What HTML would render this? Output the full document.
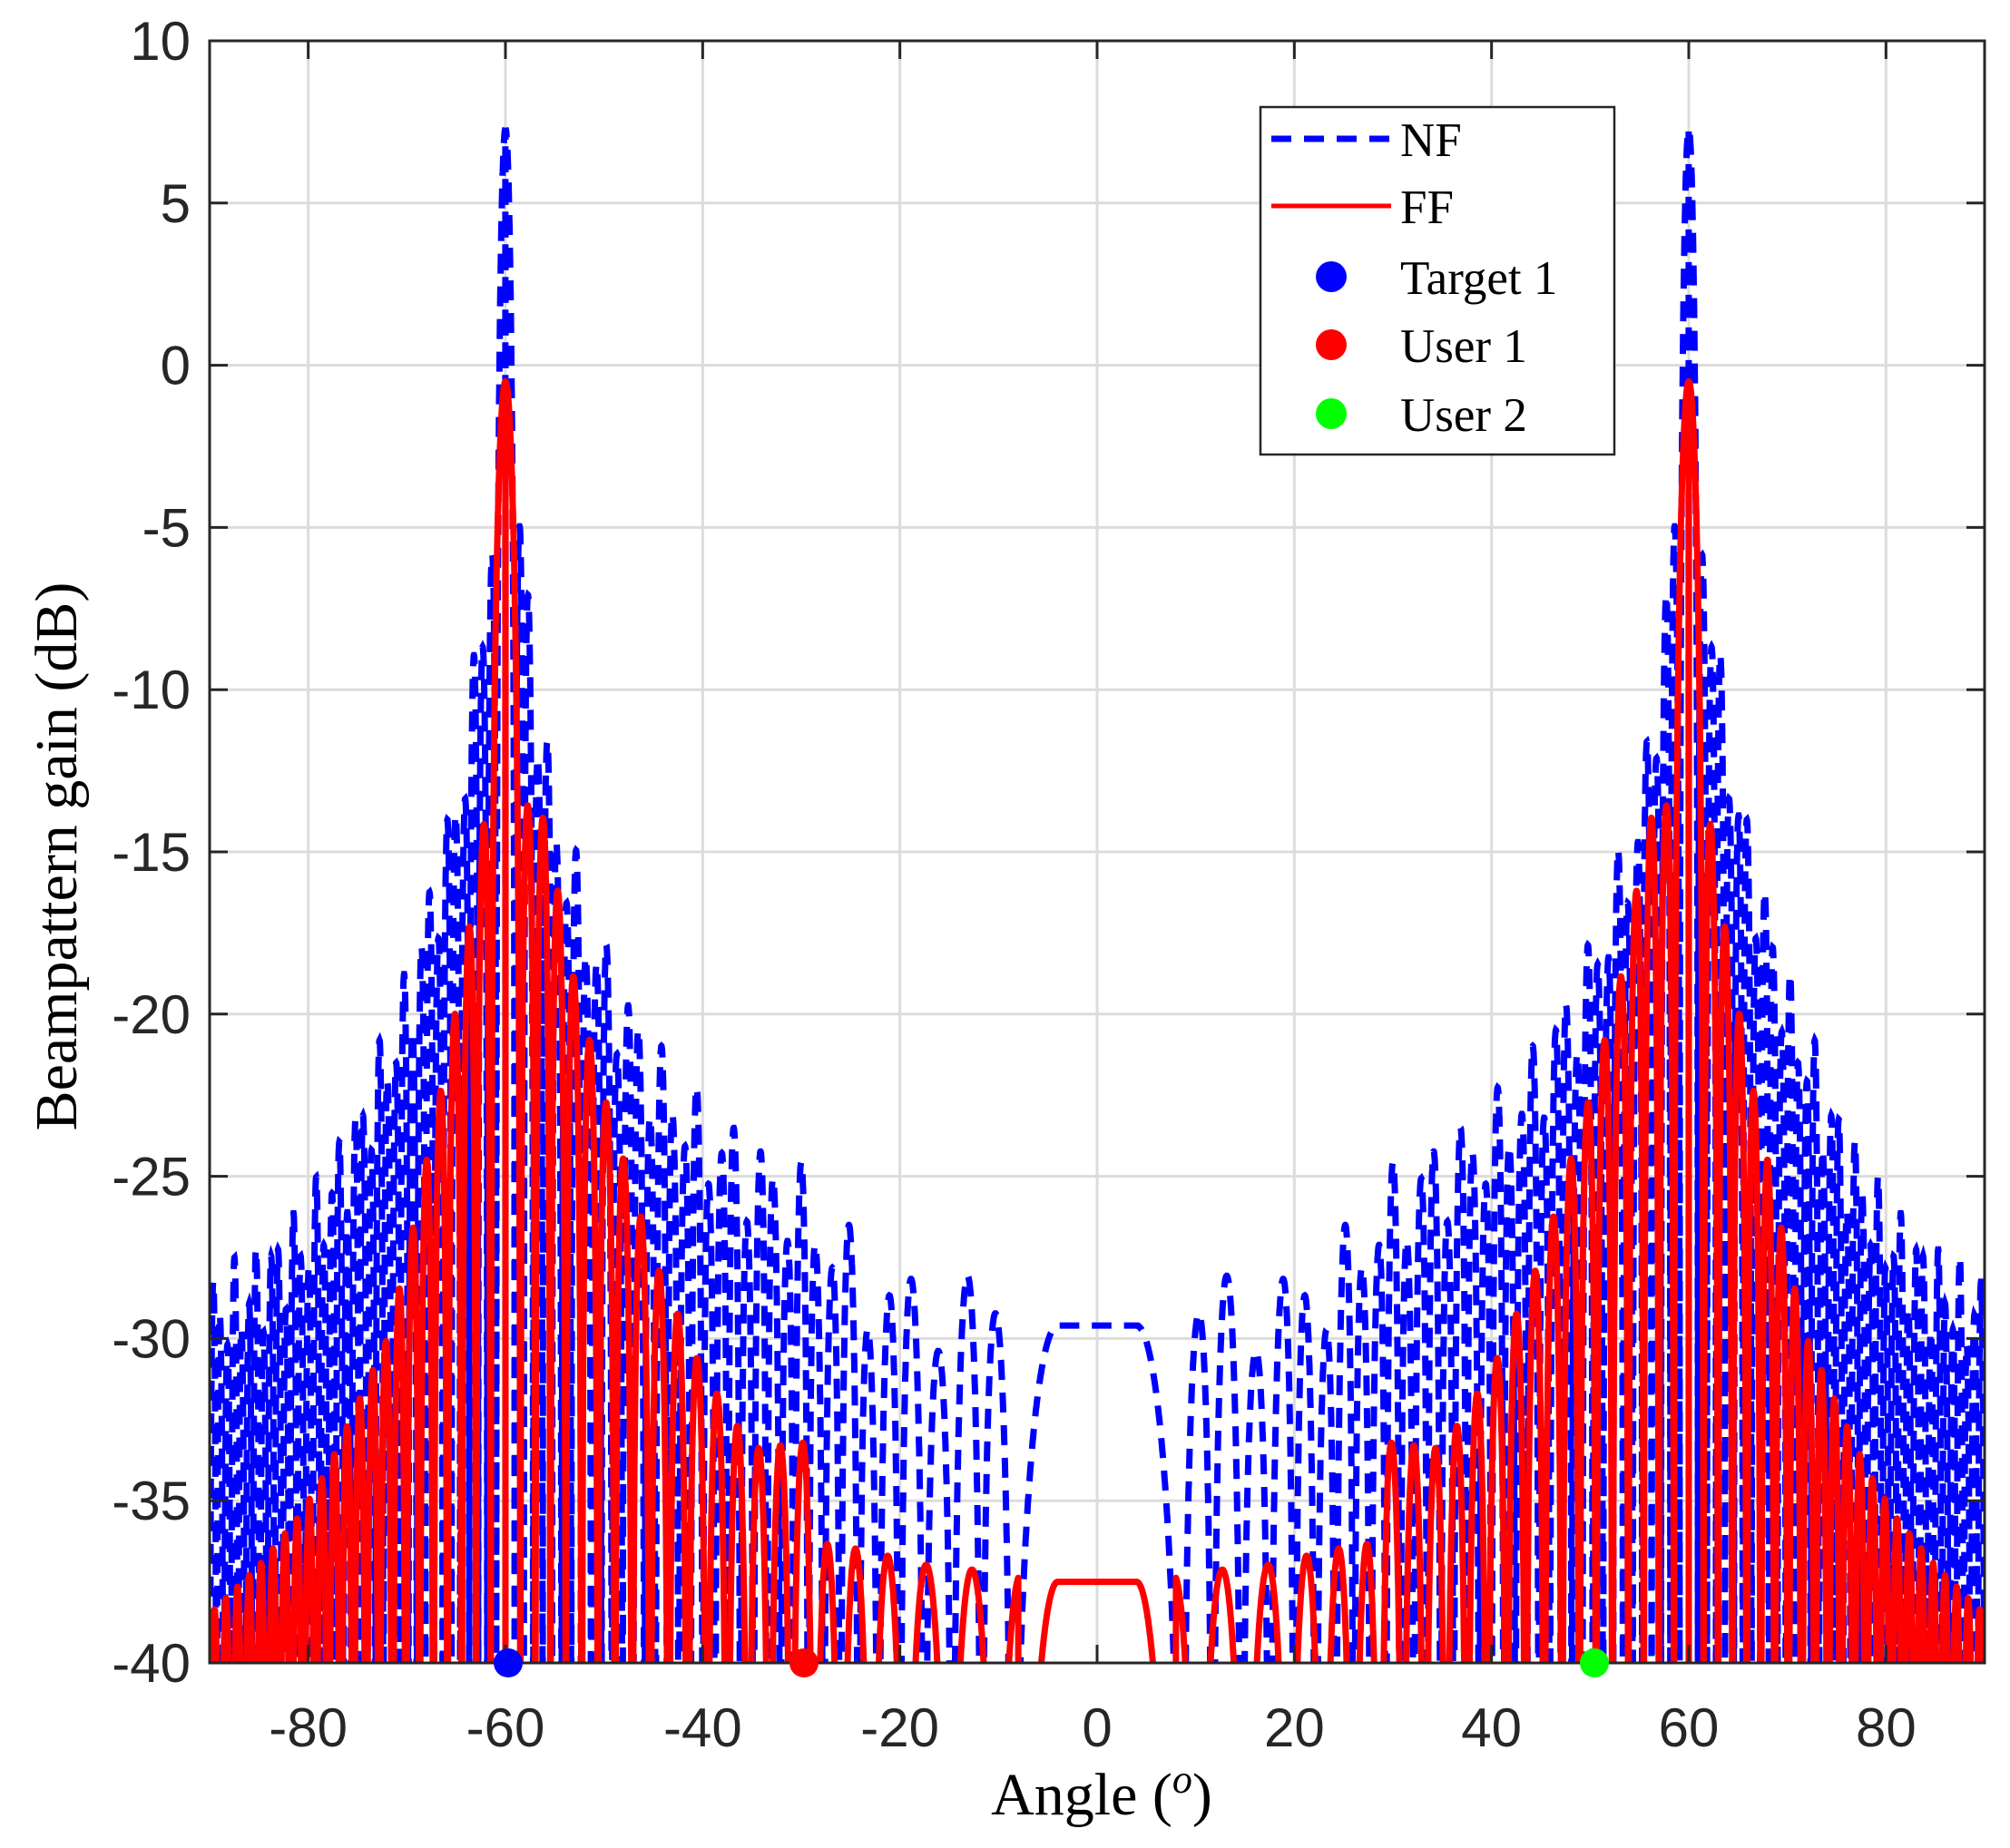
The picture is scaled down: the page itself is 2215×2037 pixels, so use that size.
<!DOCTYPE html>
<html><head><meta charset="utf-8"><style>
html,body{margin:0;padding:0;background:#fff;}
svg{display:block;}
.tk{font-family:"Liberation Sans",sans-serif;font-size:60px;fill:#262626;}
.lg{font-family:"Liberation Serif",serif;fill:#000;}
</style></head><body>
<svg id="s" width="2215" height="2037" viewBox="0 0 2215 2037" xmlns="http://www.w3.org/2000/svg">
<defs><clipPath id="c"><rect x="231" y="45" width="1956" height="1788"/></clipPath></defs>
<rect x="231" y="45" width="1956" height="1788" fill="#fff"/>
<g id="grid" stroke="#dcdcdc" stroke-width="3"></g>
<g clip-path="url(#c)">
<path id="pb" fill="none" stroke="#0000ff" stroke-width="7" stroke-dasharray="22 14"/>
<path id="pr" fill="none" stroke="#ff0000" stroke-width="7" stroke-linejoin="round"/>
</g>
<g id="ax" stroke="#262626" stroke-width="3" fill="none"></g>
<rect x="231" y="45" width="1956" height="1788" fill="none" stroke="#262626" stroke-width="3"/>
<g id="lab"></g>
<circle cx="560" cy="1833" r="16" fill="#0000ff"/>
<circle cx="886" cy="1833" r="16" fill="#ff0000"/>
<circle cx="1757" cy="1833" r="16" fill="#00ff00"/>
<text class="lg" x="1214" y="2000" text-anchor="middle" style="font-size:66px">Angle (<tspan font-style="italic" style="font-size:44px" dy="-24">o</tspan><tspan dy="24">)</tspan></text>
<text class="lg" style="font-size:66px" transform="translate(84,944) rotate(-90)" text-anchor="middle">Beampattern gain (dB)</text>
<rect x="1389" y="118" width="390" height="383" fill="#fff" stroke="#262626" stroke-width="2.5"/>
<line x1="1401" y1="153" x2="1533" y2="153" stroke="#0000ff" stroke-width="7" stroke-dasharray="22 14"/>
<line x1="1401" y1="227" x2="1533" y2="227" stroke="#ff0000" stroke-width="5"/>
<circle cx="1467" cy="305" r="17" fill="#0000ff"/>
<circle cx="1467" cy="380" r="17" fill="#ff0000"/>
<circle cx="1467" cy="456" r="17" fill="#00ff00"/>
<g style="font-size:53px">
<text class="lg" x="1543" y="172">NF</text>
<text class="lg" x="1543" y="246">FF</text>
<text class="lg" x="1543" y="324">Target 1</text>
<text class="lg" x="1543" y="399">User 1</text>
<text class="lg" x="1543" y="475">User 2</text>
</g>
</svg>
<script>
(function(){
var NS="http://www.w3.org/2000/svg";
function X(t){return 231+(t+90)/180*1956;}
function Y(v){return 45+(10-v)/50*1788;}
var grid=document.getElementById('grid'),ax=document.getElementById('ax'),lab=document.getElementById('lab');
function el(p,n,a,txt){var e=document.createElementNS(NS,n);for(var k in a)e.setAttribute(k,a[k]);if(txt)e.textContent=txt;p.appendChild(e);return e;}
for(var t=-80;t<=80;t+=20){var x=X(t);el(grid,'line',{x1:x,y1:45,x2:x,y2:1833});
el(ax,'line',{x1:x,y1:1833,x2:x,y2:1813});el(ax,'line',{x1:x,y1:45,x2:x,y2:65});
el(lab,'text',{'class':'tk',x:x,y:1925,'text-anchor':'middle'},String(t));}
for(var v=-40;v<=10;v+=5){var y=Y(v);if(v>-40&&v<10)el(grid,'line',{x1:231,y1:y,x2:2187,y2:y});
el(ax,'line',{x1:231,y1:y,x2:251,y2:y});el(ax,'line',{x1:2187,y1:y,x2:2167,y2:y});
el(lab,'text',{'class':'tk',x:210,y:y+21,'text-anchor':'end'},String(v));}
function interp(T,a){for(var i=1;i<T.length;i++){if(a<=T[i][0]){var f=(a-T[i-1][0])/(T[i][0]-T[i-1][0]);return T[i-1][1]+f*(T[i][1]-T[i-1][1]);}}return T[T.length-1][1];}
var P=[[0,5],[10,5],[17,4.5],[21,3.5],[25,3],[30,2.3],[40,2],[55,1.55],[60,1.5],[65,1.45],[75,1.3],[90,1.15]];
var envR=[[0,-37.5],[10,-37.2],[17,-37],[24,-36.5],[28,-36.3],[29.5,-33.2],[35,-33.4],[40,-31],[45,-27.5],[50,-22.5],[53,-19],[56,-14],[58,-13.5],[60,-13.5],[62,-13.7],[64,-18],[66,-21.5],[68,-24.5],[70,-27.5],[72,-30],[75,-32],[78,-34],[81,-35.5],[85,-37],[90,-38.5]];
var envB=[[0,-29.6],[12,-29.3],[17,-28.8],[20,-29.3],[25,-28],[30,-26],[35,-25],[40,-24],[45,-22],[50,-19],[55,-14.5],[57,-10],[58.5,-5.5],[60,-5],[61.5,-5.5],[63,-10],[65,-14],[70,-20],[75,-24],[80,-27],[85,-28.5],[90,-29.5]];
var st=0.01,n=9001,g=[0],gb=[0];
for(var i=1;i<n;i++){var a=i*st;g[i]=g[i-1]+st/interp(P,a);gb[i]=gb[i-1]+st/(interp(P,a)*0.62);}
var g60=g[6000],gb60=gb[6000];
function lg(x){return 20*Math.log10(Math.max(Math.abs(x),1e-4));}
var dr="",db="";
for(var k=0;k<=18000;k++){var th=-90+k*0.01,a=Math.abs(th),idx=Math.round(a/st);
var x=g[idx]-g60,r;
if(a<8){r=a<4?-37.5:-37.5+lg(Math.cos(Math.PI/2*(a-4)/3.6));}
else if(Math.abs(x)<1){r=-0.5+lg(Math.sin(Math.PI*x)/(Math.PI*x+1e-9));}
else r=interp(envR,a)+lg(Math.sin(Math.PI*x));
var xb=gb[idx]-gb60,b;
if(a<9){b=a<4?-29.6:-29.6+lg(Math.cos(Math.PI/2*(a-4)/4.7));}
else if(Math.abs(xb)<1){b=7.3+lg(Math.sin(Math.PI*xb)/(Math.PI*xb+1e-9));}
else b=interp(envB,a)+lg(Math.sin(Math.PI*xb))+1.5*Math.sin(2.3*xb);
r=Math.max(r,-46);b=Math.max(b,-46);
var px=X(th).toFixed(1);
dr+=(k?"L":"M")+px+" "+Y(r).toFixed(1);
db+=(k?"L":"M")+px+" "+Y(b).toFixed(1);}
document.getElementById('pr').setAttribute('d',dr);
document.getElementById('pb').setAttribute('d',db);
})();
</script>
</body></html>
